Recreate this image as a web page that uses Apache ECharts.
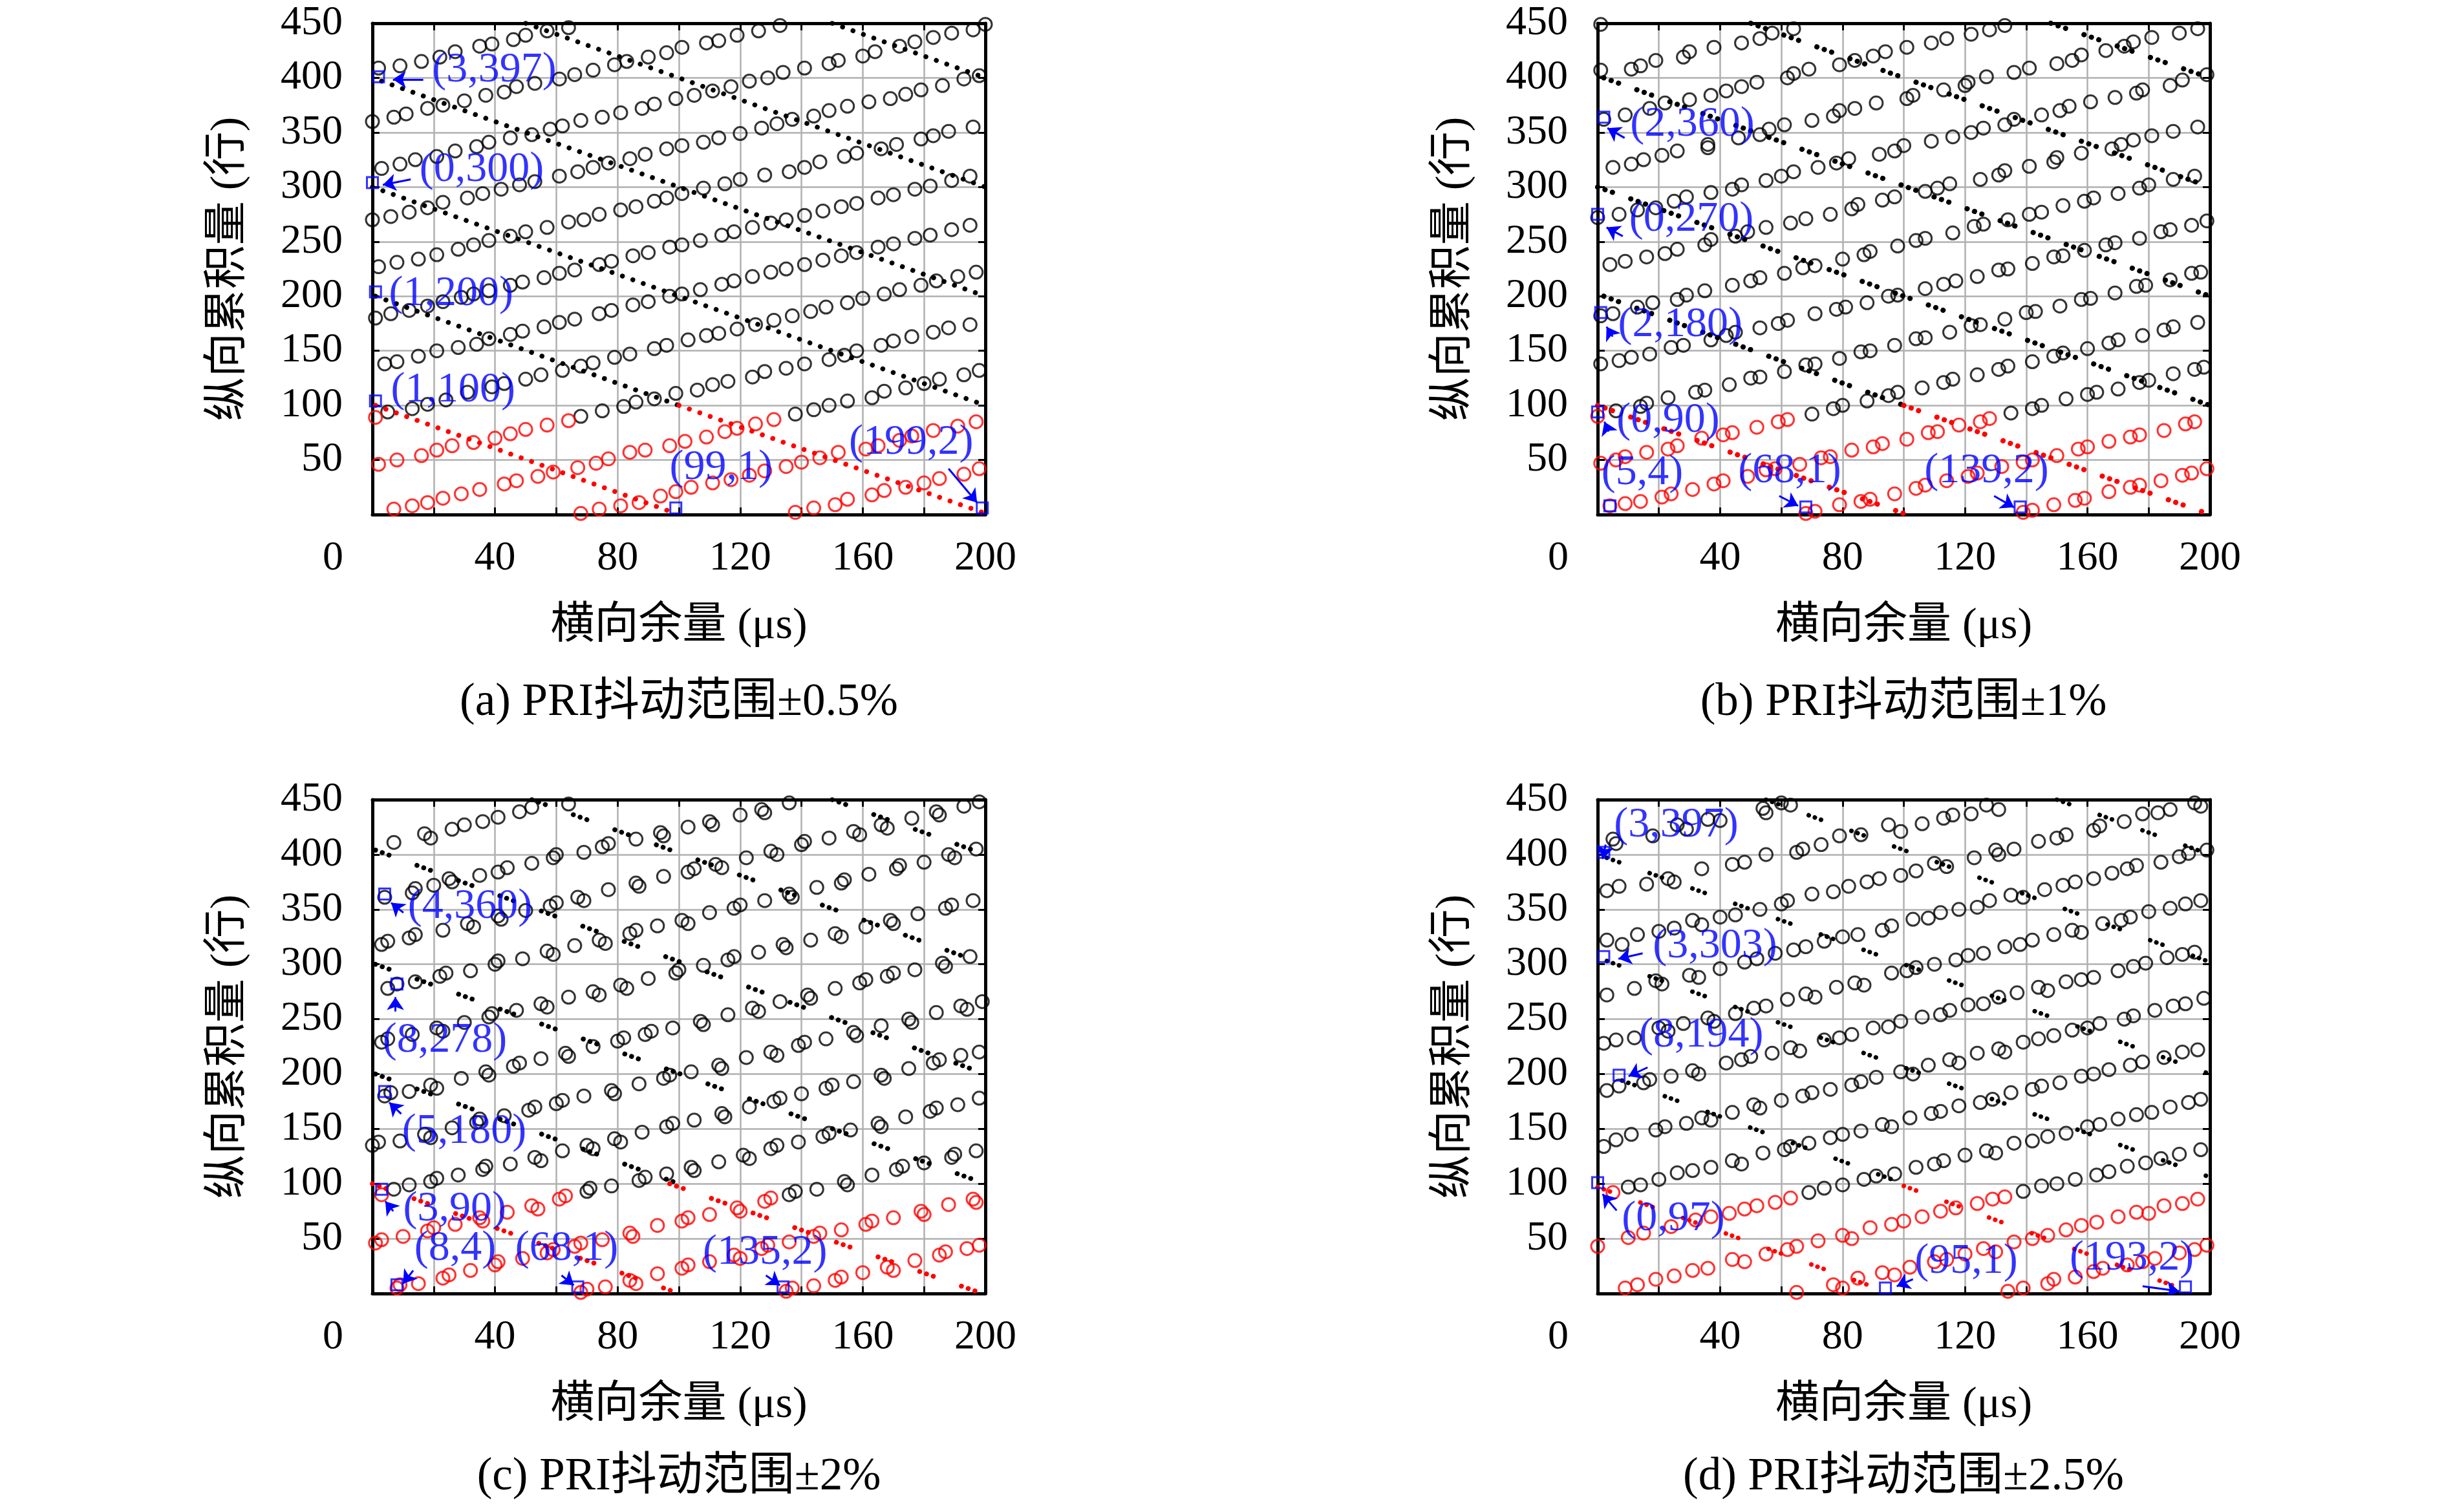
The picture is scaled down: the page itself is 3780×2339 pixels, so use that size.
<!DOCTYPE html>
<html><head><meta charset="utf-8">
<script src="https://cdn.jsdelivr.net/npm/echarts@6/dist/echarts.min.js"></script>
<style>html,body{margin:0;padding:0;background:#fff}#c{width:3780px;height:2339px}</style>
</head><body><div id="c"></div>
<script>
// ---------- texts / ticks ----------
const xTickLabels = [0, 40, 80, 120, 160, 200];
const yTickLabels = [50, 100, 150, 200, 250, 300, 350, 400, 450];
const xName = '横向余量 (μs)';
const yName = '纵向累积量 (行)';
const captions = ['(a) PRI抖动范围±0.5%', '(b) PRI抖动范围±1%', '(c) PRI抖动范围±2%', '(d) PRI抖动范围±2.5%'];

// ---------- panel (a) ----------
const aRed = [[7,5],[13,8],[18,11],[23,15],[29,19],[35,23],[43,28],[47,31],[54,35],[59,39],[67,43],[73,47],[77,51],[84,57],[89,59],[97,63],[102,67],[109,71],[115,76],[119,79],[125,83],[131,87],
[68,1],[74,5],[81,8],[87,11],[94,17],[99,21],[104,25],[111,29],[117,32],[123,36],[128,40],[135,44],[140,48],[146,52],[152,57],[161,60],[165,63],[172,68],[176,72],[183,77],[191,81],[197,85],
[138,2],[144,6],[151,9],[155,14],[163,18],[167,22],[174,25],[180,29],[185,33],[193,37],[198,42],
[2,46],[8,50],[16,54],[21,59],[26,63],[33,66],[40,70],[45,74],[50,78],[57,82],[64,86],[1,89]];
const aBlack = [[138,92],[144,96],[149,100],[155,104],[163,107],[167,113],[174,116],[180,120],[185,124],[193,128],[198,132],
[4,138],[8,140],[15,145],[21,150],[28,153],[34,156],[38,161],[45,165],[49,168],[56,172],[61,176],[66,179],[74,184],[78,187],[85,192],[90,195],[97,200],[101,202],[107,206],[114,211],[118,214],[124,218],[130,222],[135,225],[141,229],[147,233],[153,237],[158,240],[165,245],[170,248],[177,253],[182,256],[189,261],[195,265],
[0,270],[6,273],[12,277],[18,281],[23,286],[31,290],[36,294],[42,298],[48,302],[53,305],[61,310],[67,314],[72,318],[77,322],[84,326],[89,330],[96,335],[101,338],[108,341],[113,345],[120,349],[127,354],[132,358],[137,362],[144,365],[149,370],[155,374],[162,378],[169,381],[174,385],[179,389],[186,393],[193,399],[198,402],
[2,409],[9,411],[16,415],[22,419],[27,424],[35,429],[39,431],[46,435],[50,439],[57,443],[64,446],
[5,94],[13,97],[18,101],[24,105],[31,112],[39,117],[43,120],[50,124],[55,128],[62,132],[68,136],[72,139],[79,144],[84,147],[92,152],[96,155],[103,160],[109,164],[113,166],[119,170],[125,174],[131,178],[137,182],[143,186],[148,190],[155,194],[160,198],[167,202],[172,206],[179,210],[184,214],[191,218],[197,222],
[2,227],[8,231],[15,234],[21,238],[28,243],[33,247],[38,251],[45,255],[50,259],[57,263],[64,268],[69,270],[74,275],[81,279],[86,282],[92,287],[96,290],[101,294],[108,299],[115,303],[120,307],[128,311],[136,314],[141,318],[146,323],[154,328],[158,331],[166,335],[171,339],[179,344],[183,347],[188,351],[196,355],
[0,360],[7,364],[11,367],[18,372],[23,375],[30,379],[37,384],[43,387],[47,392],[53,395],[61,399],[66,403],[72,407],[79,412],[83,415],[90,419],[96,423],[101,428],[109,432],[113,434],[119,439],[126,443],[133,448],
[68,90],[75,95],[82,99],[86,103],[92,106],[99,111],[106,114],[111,119],[116,122],[124,126],[128,131],[135,134],[141,138],[149,142],[154,146],[158,150],[166,155],[170,159],[176,163],[183,167],[188,171],[195,174],
[1,180],[6,184],[12,187],[18,191],[23,195],[29,199],[33,202],[38,205],[45,210],[49,213],[56,217],[61,221],[66,224],[74,229],[78,232],[85,237],[90,240],[97,245],[101,247],[107,251],[114,256],[118,259],[124,263],[130,267],[135,270],[141,274],[147,278],[153,282],[158,285],[165,290],[170,293],[177,298],[182,301],[189,306],[195,310],
[3,317],[9,321],[14,325],[21,328],[27,333],[34,337],[38,341],[45,345],[52,348],[58,353],[62,356],[68,361],[75,364],[81,368],[88,372],[92,376],[99,381],[105,384],[111,388],[117,392],[123,397],[129,400],[134,405],[141,409],[149,413],[152,416],[160,420],[164,424],[172,429],[177,433],[183,437],[189,441],[196,444],[200,449]];
const aDotBlack = [[[1,200],[100,100]],[[0,300],[200,100]],[[3,397],[200,200]],[[50,450],[200,300]],[[150,450],[200,400]]];
const aDotRed = [[[1,100],[99,1]],[[100,100],[199,2]]];
const aMarks = [[2,401],[0,304],[1,204],[1,104],[99,6],[199,6]];
const aMarkText = ['(3,397)','(0,300)','(1,200)','(1,100)','(99,1)','(199,2)'];

// ---------- panel (b) ----------
const bRed = [[4,8],[9,10],[14,12],[21,16],[24,19],[31,23],[38,28],[41,31],[49,35],[55,41],[58,42],[66,46],[73,52],[76,53],[83,59],[90,62],[93,65],[101,69],[108,75],[111,76],[118,82],[125,85],[128,88],
[68,1],[71,3],[79,9],[86,12],[89,14],[97,19],[104,24],[107,27],[114,31],[121,35],[124,38],[132,44],[139,48],[142,50],[150,54],[157,60],[160,62],[167,67],[174,71],[177,73],[185,77],[192,83],[195,85],
[139,2],[142,4],[149,9],[156,13],[159,15],[167,21],[174,25],[177,27],[184,31],[191,36],[194,38],[199,42],
[1,47],[6,50],[9,53],[16,57],[23,60],[26,63],[34,70],[41,73],[44,75],[52,80],[59,85],[62,87],[0,90]];
const bBlack = [[135,93],[142,97],[145,100],[153,106],[160,110],[163,112],[170,115],[177,121],[180,123],[188,129],[195,133],[198,135],
[1,138],[7,141],[11,144],[17,147],[24,153],[28,155],[37,160],[42,164],[45,167],[53,171],[59,175],[62,178],[71,184],[78,188],[81,190],[88,194],[95,200],[98,201],[107,207],[113,211],[117,214],[124,218],[131,224],[134,225],[142,230],[149,236],[152,237],[159,242],[166,247],[169,249],[177,253],[184,259],[187,261],[194,265],[199,269],
[0,272],[7,275],[13,279],[19,281],[25,287],[29,291],[37,295],[44,298],[47,302],[55,306],[60,310],[64,314],[72,318],[78,322],[82,326],[92,330],[97,333],[100,338],[109,342],[116,346],[122,350],[126,354],[133,357],[136,362],[145,366],[151,370],[154,374],[161,378],[169,382],[176,386],[178,389],[187,393],[191,398],[199,403],
[1,407],[11,408],[14,411],[19,416],[28,419],[30,424],[38,428],[47,432],[53,436],[57,441],[64,445],
[6,95],[14,99],[16,102],[23,107],[32,112],[35,114],[43,119],[50,125],[53,126],[61,131],[68,137],[71,138],[79,143],[86,149],[89,150],[97,155],[104,161],[107,162],[115,167],[122,173],[125,174],[133,179],[140,185],[143,186],[151,191],[158,197],[161,198],[169,203],[176,209],[179,210],[187,215],[194,221],[197,222],
[4,229],[9,232],[16,236],[22,239],[26,243],[35,247],[37,252],[45,255],[49,259],[55,263],[63,267],[68,271],[76,275],[83,280],[85,284],[93,288],[97,291],[107,296],[111,299],[115,303],[125,307],[131,311],[133,315],[141,319],[149,323],[150,327],[158,331],[168,335],[171,339],[175,343],[181,347],[188,351],[196,355],
[2,362],[9,366],[17,372],[22,377],[30,380],[37,384],[42,388],[47,392],[52,396],[62,400],[64,404],[69,408],[79,412],[84,416],[90,420],[94,424],[101,428],[109,432],[114,436],[122,440],[128,444],[133,448],
[70,92],[77,97],[80,100],[88,104],[95,109],[98,112],[106,116],[113,121],[116,124],[124,128],[131,133],[134,136],[142,140],[149,145],[152,148],[160,152],[167,157],[170,160],[178,164],[185,169],[188,172],[196,176],
[1,182],[5,184],[13,190],[18,194],[26,197],[29,201],[35,205],[44,210],[50,214],[53,217],[61,221],[67,226],[71,228],[80,234],[87,238],[89,241],[98,246],[104,251],[107,253],[116,258],[123,264],[126,266],[134,270],[141,275],[145,277],[152,283],[159,287],[162,290],[170,294],[177,299],[180,302],[188,307],[195,310],
[1,449],[5,318],[11,321],[15,325],[21,329],[26,333],[36,336],[36,339],[46,345],[53,348],[56,353],[61,357],[70,361],[77,365],[79,370],[84,372],[91,377],[101,381],[103,384],[113,389],[120,393],[121,396],[127,401],[136,405],[141,409],[150,413],[155,416],[158,421],[166,425],[172,429],[175,433],[181,437],[190,441],[196,445]];
const bDotBlack = [[[2,200],[100,100]],[[0,300],[200,100]],[[2,400],[200,200]],[[50,450],[200,300]],[[148,450],[200,400]]];
const bDotRed = [[[0,100],[100,1]],[[100,100],[199,1]]];
const bMarks = [[2,364],[0,275],[1,185],[0,94],[4,8],[68,7],[138,7]];
const bMarkText = ['(2,360)','(0,270)','(2,180)','(0,90)','(5,4)','(68,1)','(139,2)'];

// ---------- panel (c) ----------
const cRed = [[8,5],[9,8],[15,9],[23,14],[25,17],[32,21],[40,26],[41,29],[49,32],[57,37],[59,40],[66,43],[68,46],[75,49],[84,55],[85,52],[93,62],[101,66],[103,69],[110,72],[119,78],[120,75],[128,84],[130,87],
[68,1],[70,4],[76,6],[84,12],[86,9],[93,18],[101,23],[103,26],[110,29],[118,35],[120,32],[127,41],[129,44],[136,47],[144,52],[146,55],[153,58],[161,63],[163,66],[170,69],[179,75],[180,72],[188,81],[196,86],[197,83],
[135,2],[137,5],[144,7],[151,12],[153,15],[160,19],[168,24],[170,21],[177,30],[185,35],[187,38],[194,41],[198,44],
[1,46],[3,49],[10,52],[18,57],[20,60],[27,63],[35,69],[36,66],[44,74],[52,80],[54,77],[61,86],[63,89],[3,90]];
const cBlack = [[136,90],[138,93],[145,95],[154,102],[155,99],[163,108],[171,113],[173,116],[180,119],[189,124],[190,127],[197,130],
[0,135],[2,138],[9,139],[17,145],[19,142],[26,151],[34,156],[35,159],[43,162],[51,167],[53,170],[60,173],[62,176],[69,180],[78,185],[79,182],[87,191],[95,196],[97,199],[104,202],[113,208],[114,205],[122,215],[130,220],[132,217],[139,226],[141,229],[148,232],[157,238],[158,235],[166,244],[175,250],[176,247],[184,256],[192,262],[194,259],[199,266],
[5,278],[8,282],[14,284],[22,289],[24,292],[32,294],[40,300],[41,303],[49,305],[57,312],[59,309],[66,317],[74,322],[76,319],[84,328],[86,331],[93,335],[101,340],[103,337],[110,347],[118,351],[120,354],[128,358],[136,364],[137,361],[145,370],[153,374],[154,377],[162,382],[171,387],[172,390],[180,393],[188,400],[190,397],[197,405],
[7,411],[17,419],[19,415],[26,423],[30,427],[36,430],[41,434],[48,439],[52,443],[64,446],
[7,95],[12,99],[19,102],[21,105],[28,108],[36,113],[37,116],[45,118],[53,124],[55,121],[62,130],[70,135],[72,132],[79,141],[81,138],[88,147],[96,152],[98,155],[105,158],[114,164],[115,161],[123,170],[131,175],[133,178],[140,182],[148,187],[150,190],[157,193],[166,199],[167,196],[175,205],[183,210],[185,213],[192,217],[198,220],
[3,229],[5,232],[13,236],[21,242],[23,239],[30,247],[38,252],[39,255],[47,258],[55,264],[57,261],[64,270],[72,275],[74,272],[81,281],[83,278],[90,287],[99,292],[100,295],[108,299],[116,304],[118,307],[126,311],[134,318],[135,315],[143,322],[151,328],[153,325],[161,334],[169,340],[170,337],[178,346],[187,351],[189,354],[196,358],
[4,361],[13,365],[14,369],[20,372],[25,378],[26,375],[35,381],[41,384],[44,388],[52,392],[59,397],[60,400],[69,402],[75,407],[77,410],[86,414],[94,420],[95,417],[103,425],[110,430],[111,427],[120,436],[127,441],[128,438],[136,447],
[70,93],[71,96],[78,98],[87,103],[89,106],[96,109],[104,115],[105,112],[113,120],[121,126],[123,123],[130,132],[132,135],[139,138],[147,143],[149,146],[156,149],[165,155],[166,152],[174,161],[182,166],[184,169],[191,172],[198,178],
[4,180],[6,183],[12,184],[19,190],[21,187],[29,196],[37,202],[38,199],[46,207],[48,210],[55,214],[63,219],[64,216],[72,225],[80,230],[82,233],[89,236],[91,239],[98,242],[107,248],[108,245],[116,254],[124,260],[126,257],[133,266],[142,272],[143,269],[151,278],[159,283],[161,286],[168,289],[170,292],[177,295],[186,301],[187,298],[195,307],
[3,318],[5,321],[12,324],[14,327],[23,331],[31,337],[33,334],[41,344],[42,341],[50,349],[58,353],[60,356],[67,361],[69,358],[77,368],[86,374],[87,371],[95,380],[103,384],[105,387],[112,391],[114,388],[122,397],[130,403],[132,400],[140,409],[141,412],[149,415],[157,421],[159,418],[166,427],[168,424],[176,433],[184,439],[185,436],[193,444],[198,448]];
const cDotBlack = [[[1,200],[100,100]],[[1,300],[200,100]],[[1,404],[200,200]],[[52,450],[200,300]],[[150,450],[200,400]]];
const cDotRed = [[[0,100],[99,1]],[[97,100],[198,1]]];
const cMarks = [[4,364],[8,282],[4,184],[3,95],[8,8],[67,6],[134,6]];
const cMarkText = ['(4,360)','(8,278)','(5,180)','(3,90)','(8,4)','(68,1)','(135,2)'];

// ---------- panel (d) ----------
const dRed = [[9,5],[13,8],[19,13],[25,16],[31,21],[36,23],[44,31],[48,29],[55,36],[62,40],[65,43],[72,48],[80,53],[83,50],[89,60],[96,63],[100,66],[106,70],[112,75],[117,78],[124,82],[129,86],[133,88],
[65,1],[77,8],[80,5],[85,14],[93,19],[97,17],[102,24],[110,29],[114,31],[120,36],[126,41],[130,38],[136,47],[142,50],[147,53],[153,58],[158,62],[163,65],[170,70],[176,74],[180,73],[185,80],[191,82],[196,86],
[134,2],[139,5],[147,9],[149,13],[156,15],[162,20],[165,23],[173,26],[178,29],[182,32],[190,37],[195,40],[199,44],
[0,43],[10,51],[15,55],[24,61],[32,67],[37,70],[43,73],[48,77],[52,80],[58,83],[63,87],[5,92]];
const dBlack = [[139,93],[145,98],[150,100],[156,104],[163,108],[167,111],[173,116],[179,119],[184,123],[190,127],[197,131],
[2,134],[6,140],[11,145],[19,149],[22,152],[29,155],[34,160],[37,158],[44,165],[51,172],[53,169],[60,176],[67,180],[70,183],[76,186],[83,190],[86,193],[91,197],[99,202],[103,200],[108,208],[115,213],[118,210],[124,219],[131,223],[133,220],[139,229],[144,232],[149,235],[155,240],[160,242],[164,246],[172,250],[175,253],[182,258],[188,262],[192,264],[198,269],
[3,272],[12,278],[19,285],[21,282],[30,290],[33,288],[40,296],[48,302],[52,305],[58,310],[64,313],[68,316],[74,321],[80,325],[85,327],[93,331],[96,335],[103,341],[108,342],[112,347],[118,350],[124,352],[128,358],[135,363],[139,361],[146,368],[152,372],[156,375],[162,378],[168,383],[173,387],[176,390],[184,393],[190,398],[193,401],[199,404],
[6,410],[5,414],[18,417],[26,427],[29,423],[36,432],[40,431],[54,442],[55,438],[60,447],[63,445],
[10,97],[14,99],[20,104],[26,110],[31,112],[37,115],[44,121],[47,118],[54,128],[61,131],[63,134],[69,137],[76,142],[80,145],[86,148],[93,154],[96,152],[102,160],[109,164],[112,166],[118,171],[125,174],[129,177],[135,183],[142,186],[145,189],[151,192],[158,198],[162,200],[167,204],[174,208],[178,211],[185,215],[191,220],[196,222],
[2,228],[6,231],[12,233],[20,242],[23,239],[28,246],[36,251],[38,248],[45,255],[51,260],[55,262],[62,268],[68,273],[71,270],[78,279],[84,283],[87,281],[96,292],[101,294],[104,297],[110,300],[117,304],[121,308],[126,310],[133,316],[138,318],[142,322],[149,327],[155,331],[158,329],[165,337],[171,340],[174,343],[180,348],[187,351],[192,355],[197,358],
[3,367],[7,371],[16,373],[23,378],[25,375],[34,387],[44,391],[48,393],[55,400],[65,402],[67,405],[73,409],[79,417],[86,418],[95,427],[99,421],[106,428],[113,433],[116,436],[122,437],[127,445],[131,441],
[69,92],[74,96],[80,99],[87,104],[91,107],[97,109],[104,115],[110,118],[113,121],[120,126],[127,130],[130,128],[136,137],[142,139],[147,143],[153,146],[160,152],[164,154],[170,159],[176,163],[181,165],[187,170],[193,174],[197,177],
[3,185],[7,189],[15,192],[17,195],[24,198],[31,203],[33,200],[42,210],[47,213],[50,216],[57,219],[63,224],[66,221],[74,231],[79,233],[83,236],[90,242],[95,243],[99,248],[106,252],[112,254],[115,258],[121,263],[126,264],[131,270],[137,274],[144,279],[147,276],[153,284],[158,286],[162,288],[170,294],[175,298],[179,301],[186,306],[191,309],[195,311],
[3,322],[8,318],[13,327],[20,330],[25,333],[31,340],[34,336],[40,343],[45,345],[53,350],[60,355],[62,358],[70,364],[77,366],[82,371],[88,375],[92,378],[99,381],[104,385],[110,392],[114,389],[123,397],[130,404],[131,400],[136,405],[144,412],[150,415],[153,418],[162,422],[164,426],[172,430],[178,437],[183,438],[187,441],[195,447],[197,444]];
const dDotBlack = [[[8,194],[100,100]],[[3,303],[200,106]],[[3,397],[200,200]],[[55,450],[200,302]],[[150,450],[200,400]]];
const dDotRed = [[[0,97],[95,1]],[[100,98],[193,2]]];
const dMarks = [[2,402],[2,307],[7,199],[0,101],[94,5],[192,6]];
const dMarkText = ['(3,397)','(3,303)','(8,194)','(0,97)','(95,1)','(193,2)'];

// ---------- layout (pixels) and annotation geometry ----------
const gridRects = [
  {left:576, top:36, width:948, height:760},
  {left:2471, top:36, width:947, height:760},
  {left:576, top:1237, width:948, height:764},
  {left:2471, top:1237, width:947, height:764}
];
const captionPos = [[1050,1087],[2944,1087],[1050,2285],[2944,2285]];
const labelOffsets = [
  [[179,-10],[169,-20],[117,3],[120,-17],[70,-62],[-110,-101]],
  [[137,11],[145,8],[123,19],[109,13],[50,-51],[-25,-56],[-52,-56]],
  [[132,20],[74,87],[123,62],[113,31],[90,-56],[-17,-59],[-28,-53]],
  [[112,-42],[172,-16],[127,-61],[117,56],[125,-41],[-83,-44]]
];
const arrowGeom = [
  [[[16.6,398.6],[6.7,398.6]],[[12.5,307],[3.4,302]],[[188,42],[197.3,11]]],
  [[[8.8,345],[3.2,354]],[[8.2,255],[2.9,263]],[[4.9,163],[2.9,172]],[[3.6,76],[2.2,85]],[[59.3,17],[65.5,8]],[[129.5,17],[136,6.6]]],
  [[[10.1,347],[6.1,356]],[[7.5,257],[7.5,270]],[[9.4,163.7],[5.5,174]],[[6.8,75],[4.2,84]],[[13.3,21],[10,9]],[[61.7,16.5],[65.7,7.5]],[[128.4,16.5],[133,7.5]]],
  [[[2.6,409],[1.6,396]],[[14.7,310],[6.8,305]],[[16.3,206],[10.1,198]],[[6.2,75.6],[1.6,90.6]],[[103,13],[97.7,6.6]],[[178,6.6],[190,2]]]
];
const dotDash = [[0.1,17],[0.1,12,0.1,12,0.1,30],[0.1,11,0.1,11,0.1,46],[0.1,10,0.1,10,0.1,50]];
const dotWidth = [7.5,8,7.5,7];

const panels = [
  {black:aBlack, red:aRed, dotBlack:aDotBlack, dotRed:aDotRed, marks:aMarks, text:aMarkText},
  {black:bBlack, red:bRed, dotBlack:bDotBlack, dotRed:bDotRed, marks:bMarks, text:bMarkText},
  {black:cBlack, red:cRed, dotBlack:cDotBlack, dotRed:cDotRed, marks:cMarks, text:cMarkText},
  {black:dBlack, red:dRed, dotBlack:dDotBlack, dotRed:dDotRed, marks:dMarks, text:dMarkText}
];

const FONT = "'Liberation Serif','Noto Sans CJK SC',serif";
const FS = 64;
const NAME_FS = 68;
const frameLine = {color:'#000', width:5};
const tickStyle = {show:true, inside:true, length:11, lineStyle:{color:'#000', width:3}};

const grid = [], xAxis = [], yAxis = [], series = [], graphic = [];
panels.forEach((P, i) => {
  grid.push(Object.assign({containLabel:false, outerBoundsMode:'none'}, gridRects[i]));
  xAxis.push({
    type:'value', gridIndex:i, min:0, max:200, interval:20, position:'bottom',
    axisLine:{show:true, onZero:false, lineStyle:frameLine}, axisTick:tickStyle,
    splitLine:{show:true, lineStyle:{color:'#b0b0b0', width:2.5}},
    axisLabel:{show:true, margin:36, color:'#000', fontSize:FS, fontFamily:FONT,
      showMinLabel:true, showMaxLabel:true,
      formatter: v => v === 0 ? '{o|0}' : (xTickLabels.indexOf(v) >= 0 ? String(v) : ''),
      rich:{o:{padding:[0,122,0,0], fontSize:FS, fontFamily:FONT, color:'#000'}}},
    name:xName, nameLocation:'middle', nameGap:139, nameMoveOverlap:false,
    nameTextStyle:{fontSize:NAME_FS, fontFamily:FONT, color:'#000'}
  });
  xAxis.push({
    type:'value', gridIndex:i, min:0, max:200, interval:20, position:'top',
    axisLine:{show:true, onZero:false, lineStyle:frameLine}, axisTick:tickStyle,
    splitLine:{show:false}, axisLabel:{show:false}
  });
  yAxis.push({
    type:'value', gridIndex:i, min:0, max:450, interval:50, position:'left',
    axisLine:{show:true, onZero:false, lineStyle:frameLine}, axisTick:tickStyle,
    splitLine:{show:true, lineStyle:{color:'#b0b0b0', width:2.5}},
    axisLabel:{show:true, margin:46, color:'#000', fontSize:FS, fontFamily:FONT,
      showMinLabel:true, showMaxLabel:true,
      formatter: v => (yTickLabels.indexOf(v) >= 0 ? String(v) : '')},
    name:yName, nameLocation:'middle', nameGap:188, nameRotate:90, nameMoveOverlap:false,
    nameTextStyle:{fontSize:NAME_FS, fontFamily:FONT, color:'#000'}
  });
  yAxis.push({
    type:'value', gridIndex:i, min:0, max:450, interval:50, position:'right',
    axisLine:{show:true, onZero:false, lineStyle:frameLine}, axisTick:tickStyle,
    splitLine:{show:false}, axisLabel:{show:false}
  });
  const xi = 2*i, yi = 2*i;
  series.push({type:'scatter', xAxisIndex:xi, yAxisIndex:yi, data:P.black, symbol:'circle', symbolSize:20,
    itemStyle:{color:'rgba(0,0,0,0)', borderColor:'#000', borderWidth:3}, z:2, silent:true});
  series.push({type:'scatter', xAxisIndex:xi, yAxisIndex:yi, data:P.red, symbol:'circle', symbolSize:20,
    itemStyle:{color:'rgba(0,0,0,0)', borderColor:'#ff0000', borderWidth:3}, z:2, silent:true});
  series.push({type:'lines', coordinateSystem:'cartesian2d', xAxisIndex:xi, yAxisIndex:yi,
    data:P.dotBlack.map(s => ({coords:s})), symbol:'none',
    lineStyle:{color:'#000', width:dotWidth[i], type:dotDash[i], cap:'round', opacity:1, curveness:0}, z:3, silent:true});
  series.push({type:'lines', coordinateSystem:'cartesian2d', xAxisIndex:xi, yAxisIndex:yi,
    data:P.dotRed.map(s => ({coords:s})), symbol:'none',
    lineStyle:{color:'#ff0000', width:dotWidth[i], type:dotDash[i], cap:'round', opacity:1, curveness:0}, z:3, silent:true});
  series.push({type:'lines', coordinateSystem:'cartesian2d', xAxisIndex:xi, yAxisIndex:yi,
    data:arrowGeom[i].map(s => ({coords:s})), symbol:['none','arrow'], symbolSize:20,
    lineStyle:{color:'#0000ff', width:3, type:'solid', opacity:1, curveness:0}, z:5, silent:true});
  series.push({type:'scatter', xAxisIndex:xi, yAxisIndex:yi, symbol:'rect', symbolSize:17,
    data:P.marks.map((m, k) => ({value:m, name:P.text[k], label:{offset:labelOffsets[i][k]}})),
    itemStyle:{color:'rgba(0,0,0,0)', borderColor:'#0000ff', borderWidth:3},
    label:{show:true, position:'inside', formatter:'{b}', color:'#0000ff', fontSize:66, fontFamily:FONT},
    z:6, silent:true});
  graphic.push({type:'text', x:captionPos[i][0], y:captionPos[i][1], z:10,
    style:{text:captions[i], fontSize:71, fontFamily:FONT, fill:'#000', align:'center', verticalAlign:'middle'}});
});

const chart = echarts.init(document.getElementById('c'), null, {renderer:'canvas', width:3780, height:2339});
chart.setOption({backgroundColor:'#ffffff', animation:false, grid, xAxis, yAxis, series, graphic});
</script></body></html>
